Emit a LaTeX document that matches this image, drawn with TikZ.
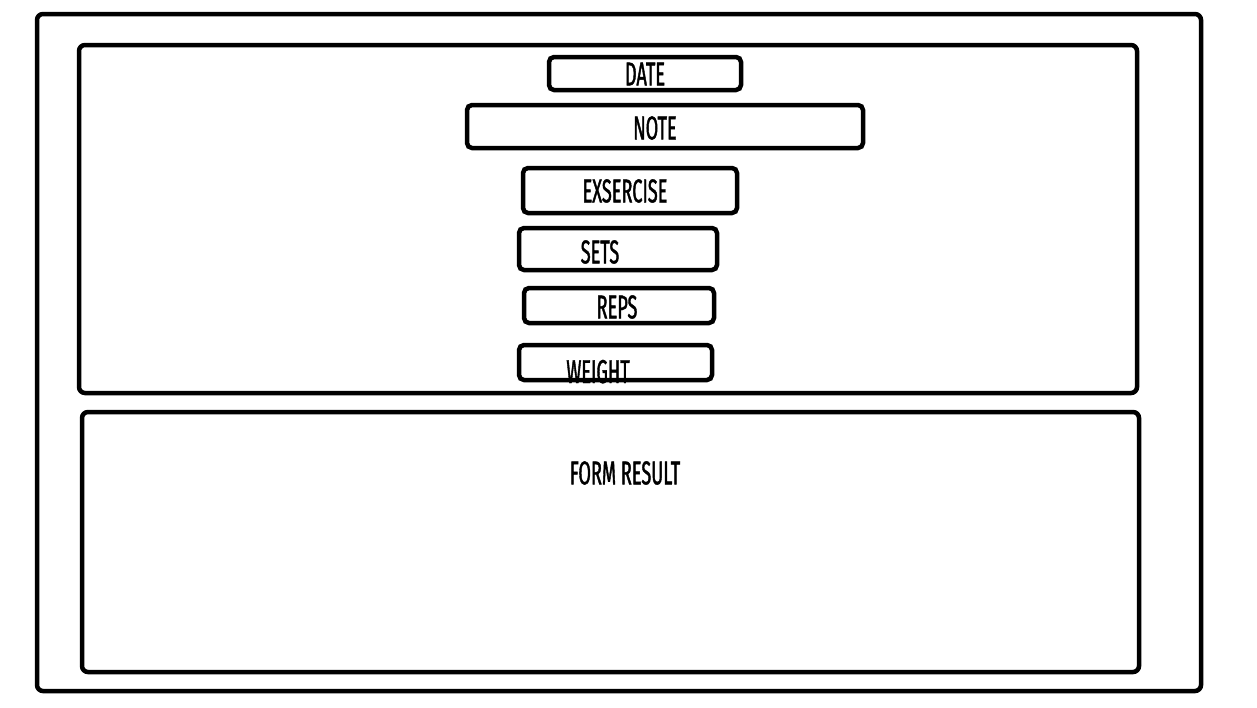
\documentclass[tikz,border=0pt]{standalone}
\usepackage{fontspec}
\newfontfamily\sketchfont[FakeStretch=0.55, FakeBold=1.2]{Fira Sans}
\tikzset{
  frame/.style={line width=4.5pt, rounded corners=6pt},
  field/.style={line width=4.5pt, rounded corners=5pt},
  label/.style={font=\sketchfont\fontsize{33}{33}\selectfont, inner sep=0pt}
}
\begin{document}
\begin{tikzpicture}[x=1pt,y=-1pt]
\useasboundingbox (0,0) rectangle (1257,707);
% Define panels
\draw[frame] (37,14) rectangle (1201,691);
\draw[frame] (79,45) rectangle (1137,393);
\draw[frame] (82,412) rectangle (1139,672);
% Define fields
\node[label] (date) at (645,74) {DATE};
\draw[field] (549,57) rectangle (741,90);
\node[label] (note) at (655,128) {NOTE};
\draw[field] (467,105) rectangle (863,148);
\node[label] (exercise) at (625,191) {EXSERCISE};
\draw[field] (523,168) rectangle (737,213);
\node[label] (sets) at (600,252) {SETS};
\draw[field] (519,228) rectangle (717,270);
\node[label] (reps) at (617,307) {REPS};
\draw[field] (524,288) rectangle (714,323);
\node[label, anchor=base] (weight) at (598,383) {WEIGHT};
\draw[field] (519,345) rectangle (712,380);
% Result area
\node[label] (result) at (625,473) {FORM RESULT};
\end{tikzpicture}
\end{document}
